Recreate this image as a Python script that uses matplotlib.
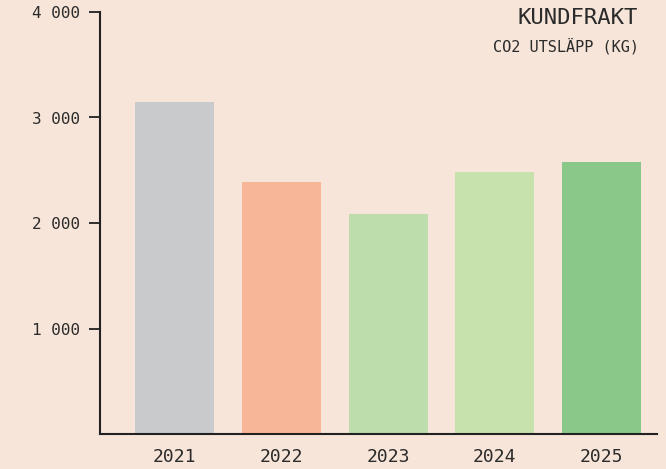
import matplotlib.pyplot as plt

years = ['2021', '2022', '2023', '2024', '2025']
co2_kg = [3150, 2385, 2085, 2480, 2575]
bar_colors = ['#c9cacc', '#f8b698', '#bddeac', '#c8e2ad', '#8ac889']
y_ticks = [1000, 2000, 3000, 4000]
y_labels = ['1 000', '2 000', '3 000', '4 000']

bg = '#f8e5d9'
txt = '#2b2b2b'

plt.rcParams['font.family'] = ['DejaVu Sans Mono']

fig = plt.figure(figsize=(6.66, 4.69), dpi=100, facecolor=bg)
ax = fig.add_axes([100 / 666, 1 - 434 / 469, (657 - 100) / 666, (434 - 12) / 469])
ax.set_facecolor(bg)

ax.bar(range(len(years)), co2_kg, width=0.74, color=bar_colors, zorder=1)

ax.set_xlim(-0.7, 4.52)
ax.set_ylim(0, 4000)
ax.set_yticks(y_ticks)
ax.set_yticklabels(y_labels, fontsize=11.5, color=txt)
ax.set_xticks(range(len(years)))
ax.set_xticklabels(years, fontsize=13, color=txt)

ax.tick_params(axis='y', length=8, width=1.3, color='#222222', pad=6.5)
ax.tick_params(axis='x', length=0, pad=10)

for s in ['top', 'right']:
    ax.spines[s].set_visible(False)
for s in ['left', 'bottom']:
    ax.spines[s].set_color('#222222')
    ax.spines[s].set_linewidth(1.5)
    ax.spines[s].set_zorder(3)

fig.text(638 / 666, 1 - 18 / 469, 'KUNDFRAKT', ha='right', va='center',
         fontsize=16, color=txt)
fig.text(639 / 666, 1 - 46 / 469, 'CO2 UTSLÄPP (KG)', ha='right', va='center',
         fontsize=11, color=txt)

fig.savefig('out.png', dpi=100, facecolor=bg)
